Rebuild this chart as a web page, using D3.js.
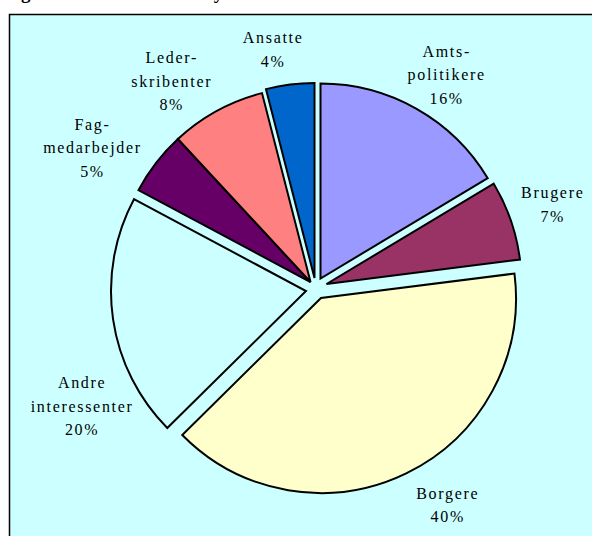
<!DOCTYPE html>
<html>
<head>
<meta charset="utf-8">
<script src="https://cdn.jsdelivr.net/npm/d3@7"></script>
<style>
  html, body { margin: 0; padding: 0; background: #fff; }
  svg { display: block; }
</style>
</head>
<body>
<div id="chart"></div>
<script>
'use strict';

// data, clockwise from 12 o'clock (shares, labels rounded)
var categories = ["Amtspolitikere", "Brugere", "Borgere", "Andre interessenter",
                  "Fagmedarbejder", "Lederskribenter", "Ansatte"];
var labelLines = [["Amts-", "politikere"], ["Brugere"], ["Borgere"], ["Andre", "interessenter"],
                  ["Fag-", "medarbejder"], ["Leder-", "skribenter"], ["Ansatte"]];
var values = [16.4, 6.6, 39.6, 20.2, 5.3, 7.9, 4.0];
var colors = ["#9999FF", "#993366", "#FFFFCC", "#CCFFFF", "#660066", "#FF8080", "#0066CC"];

// layout
var width = 592, height = 536;
var cx = 310.5, cy = 282, radius = 195, labelRadius = 250;
var sliceShift = [[10, -3.5], [16, 2], [10.5, 16], [-4.5, 9], [0, 0], [0, 0], [4, -4]];
var labelNudge = [[13, 10], [6, 4], [28, -2], [19, 88], [-20, 18], [-19, 18.5], [-6, 15.5]];
var lineHeight = 23.5;

function pieChart() {
    function display(selection) {
        selection.each(function(data) {
            var svg = d3.select(this)
                .append("svg")
                .attr("width", width)
                .attr("height", height);

            // figure caption, cropped off at the top of the picture
            svg.append("text")
                .attr("x", 4)
                .attr("y", -1.5)
                .style("font-family", "'Liberation Serif', serif")
                .style("font-size", "19px")
                .style("font-weight", "bold")
                .text("Figur 5: Hvem skriver i Nyt fra Amtet");

            svg.append("rect")
                .attr("x", 9.5)
                .attr("y", 14.5)
                .attr("width", width + 20)
                .attr("height", height + 20)
                .style("fill", "#CCFFFF")
                .style("stroke", "black")
                .style("stroke-width", 1.5);

            var pie = d3.pie().sort(null).value(function(d) { return d.value; });
            var arc = d3.arc().innerRadius(0).outerRadius(radius);
            var arcs = pie(data);

            var g = svg.append("g")
                .attr("transform", "translate(" + cx + "," + cy + ")");

            g.selectAll("path")
                .data(arcs)
                .enter().append("path")
                .attr("d", arc)
                .attr("transform", function(d, i) {
                    return "translate(" + sliceShift[i][0] + "," + sliceShift[i][1] + ")";
                })
                .style("fill", function(d, i) { return colors[i]; })
                .style("stroke", "black")
                .style("stroke-width", 2)
                .style("stroke-linejoin", "miter");

            var labels = g.selectAll("text.label")
                .data(arcs)
                .enter().append("text")
                .attr("class", "label")
                .attr("text-anchor", "middle")
                .style("font-family", "'Liberation Serif', 'Times New Roman', serif")
                .style("font-size", "16px")
                .style("letter-spacing", "1.7px")
                .style("fill", "black");

            labels.each(function(d, i) {
                var a = (d.startAngle + d.endAngle) / 2;
                var x = Math.sin(a) * labelRadius + labelNudge[i][0];
                var y = -Math.cos(a) * labelRadius + labelNudge[i][1];
                var lines = d.data.lines.concat([Math.round(d.data.value) + "%"]);
                var top = y - (lines.length - 1) * lineHeight / 2;
                d3.select(this).selectAll("tspan")
                    .data(lines)
                    .enter().append("tspan")
                    .attr("x", x)
                    .attr("y", function(t, k) { return top + k * lineHeight; })
                    .attr("dy", "0.35em")
                    .text(function(t) { return t; });
            });
        });
    }
    return display;
}

var rows = categories.map(function(c, i) {
    return { name: c, lines: labelLines[i], value: values[i] };
});

d3.select("#chart").datum(rows).call(pieChart());
</script>
</body>
</html>
